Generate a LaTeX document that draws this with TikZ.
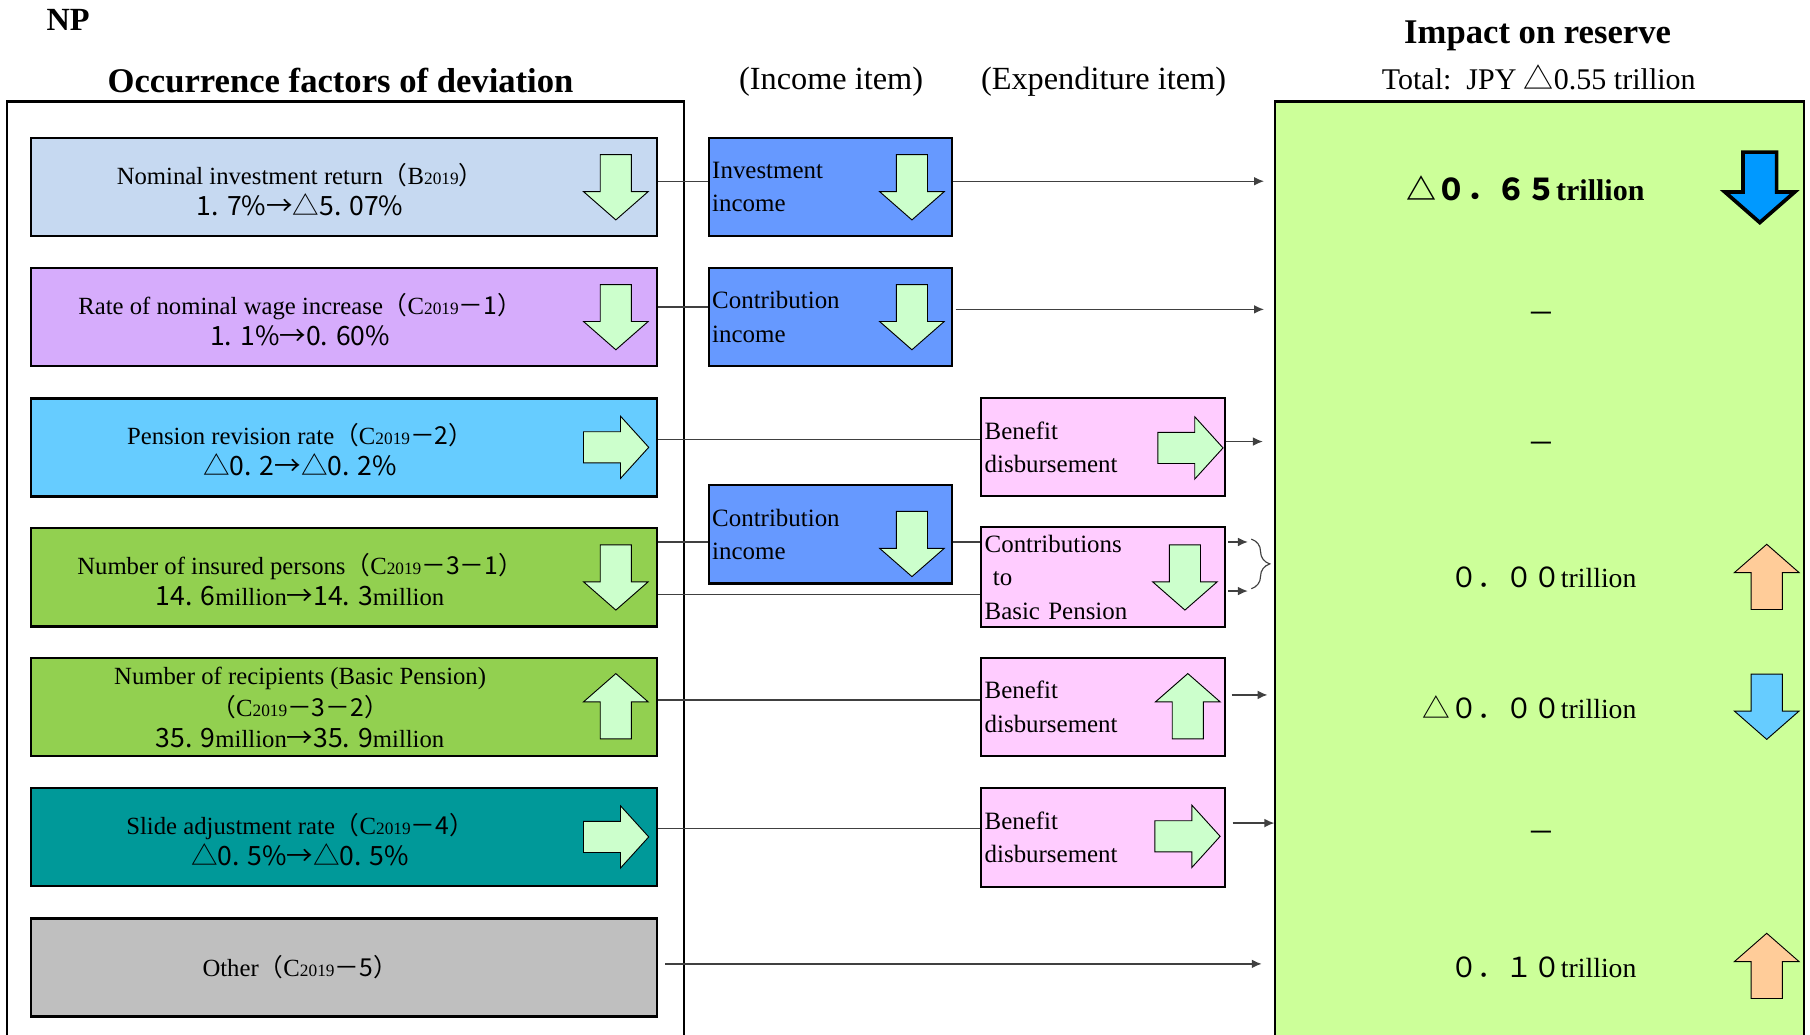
\documentclass[tikz,border=0pt]{standalone}
\usepackage{fontspec}
\setmainfont{Liberation Serif}
\newfontfamily\jpfont{Noto Sans CJK JP}
\usepackage{xcolor}
\usepackage{tikz}
\usetikzlibrary{arrows.meta, positioning, calc, decorations.pathreplacing}
\definecolor{fcblue}{RGB}{198,217,241}
\definecolor{fcviolet}{RGB}{214,172,252}
\definecolor{fcsky}{RGB}{102,204,255}
\definecolor{fcgreen}{RGB}{146,208,80}
\definecolor{fcteal}{RGB}{0,153,153}
\definecolor{fcgrey}{RGB}{191,191,191}
\definecolor{incblue}{RGB}{102,153,255}
\definecolor{exppink}{RGB}{255,204,255}
\definecolor{resgreen}{RGB}{204,255,153}
\definecolor{mint}{RGB}{204,255,204}
\definecolor{peach}{RGB}{255,204,153}
\definecolor{deepblue}{RGB}{0,153,255}
\definecolor{linegrey}{RGB}{64,64,64}
\newcommand{\yr}[1]{{\fontsize{7.5}{8}\selectfont #1}}
\newcommand{\gnum}[1]{{\jpfont #1}}
\newcommand{\gsm}[1]{{\jpfont\fontsize{11.5}{13.5}\selectfont #1}}
\tikzset{
  factor/.style={rectangle, draw=black, line width=1.1pt,
    minimum width=271pt, minimum height=42.5pt, inner sep=0pt},
  ftext/.style={align=center, inner sep=0pt,
    font=\fontsize{10.7}{13.5}\selectfont},
  incbox/.style={rectangle, draw=black, line width=0.9pt, fill=incblue,
    minimum width=105.5pt, minimum height=42.5pt, text width=102.5pt,
    inner xsep=1.5pt, align=left, font=\fontsize{10.8}{14.5}\selectfont},
  expbox/.style={incbox, fill=exppink},
  hdr/.style={font=\bfseries\fontsize{15}{18}\selectfont},
  subhdr/.style={font=\fontsize{14}{17}\selectfont},
  impval/.style={anchor=east, inner sep=0pt, font=\fontsize{12}{14}\selectfont},
  dashval/.style={inner sep=0pt, font=\fontsize{12}{14}\selectfont},
  conn/.style={draw=linegrey, line width=0.6pt},
  arr/.style={conn, -{Latex[length=4.3pt,width=3.8pt]}},
  blockarr/.style={draw=black, line width=0.4pt},
  arrdown/.pic={\path[blockarr, fill=#1] (-13.5,-28) -- (13.5,-28) -- (13.5,4)
    -- (28,4) -- (0,28.5) -- (-28,4) -- (-13.5,4) -- cycle;},
  arrup/.pic={\path[blockarr, fill=#1] (-13.5,28) -- (13.5,28) -- (13.5,-4)
    -- (28,-4) -- (0,-28.5) -- (-28,-4) -- (-13.5,-4) -- cycle;},
  arrright/.pic={\path[blockarr, fill=#1] (-28,-13.5) -- (4,-13.5) -- (4,-27)
    -- (28.5,0) -- (4,27) -- (4,13.5) -- (-28,13.5) -- cycle;}
}

\begin{document}
\begin{tikzpicture}[x=0.5pt, y=-0.5pt]
  \useasboundingbox (0,0) rectangle (1568,896);
  \clip (0,0) rectangle (1568,896);

  % ── Headings ───────────────────────────────────────────────────────────────
  \node[font=\bfseries\fontsize{14}{16}\selectfont] (np) at (59,17) {NP};
  \node[hdr] (ttl) at (295,70) {Occurrence factors of deviation};
  \node[subhdr] (incttl) at (720,71) {(Income item)};
  \node[subhdr] (expttl) at (956,71) {(Expenditure item)};
  \node[hdr] (resttl) at (1332,31) {Impact on reserve};
  \node[font=\fontsize{13}{15}\selectfont] (total) at (1333,67)
    {Total:\ \ JPY \gnum{△}0.55 trillion};

  % Frame and reserve panel (open towards the bottom)
  \node[draw=black, line width=0.9pt, anchor=north west, inner sep=0pt,
    minimum width=293.5pt, minimum height=420pt] (frame) at (5,87) {};
  \node[draw=black, line width=0.9pt, fill=resgreen, anchor=north west,
    inner sep=0pt, minimum width=229pt, minimum height=420pt] (panel) at (1104,87) {};

  % ── Occurrence factors ─────────────────────────────────────────────────────
  \node[factor, fill=fcblue]   (f1) at (298,162) {};
  \node[factor, fill=fcviolet] (f2) at (298,274.5) {};
  \node[factor, fill=fcsky]    (f3) at (298,387.5) {};
  \node[factor, fill=fcgreen]  (f4) at (298,500) {};
  \node[factor, fill=fcgreen]  (f5) at (298,612.5) {};
  \node[factor, fill=fcteal]   (f6) at (298,725) {};
  \node[factor, fill=fcgrey]   (f7) at (298,838) {};

  \node[ftext] (f1t) at (260,164) {Nominal investment return\gnum{（}B\yr{2019}\gnum{）}\\
    \gsm{1. 7\%→△5. 07\%}};
  \node[ftext] (f2t) at (260,276.5) {Rate of nominal wage increase\gnum{（}C\yr{2019}\gnum{－1）}\\
    \gsm{1. 1\%→0. 60\%}};
  \node[ftext] (f3t) at (260,389.5) {Pension revision rate\gnum{（}C\yr{2019}\gnum{－2）}\\
    \gsm{△0. 2→△0. 2\%}};
  \node[ftext] (f4t) at (260,502) {Number of insured persons\gnum{（}C\yr{2019}\gnum{－3－1）}\\
    \gsm{14. 6}million\gsm{→14. 3}million};
  \node[ftext] (f5t) at (260,613) {Number of recipients (Basic Pension)\\
    \gnum{（}C\yr{2019}\gnum{－3－2）}\\ \gsm{35. 9}million\gsm{→35. 9}million};
  \node[ftext] (f6t) at (260,727) {Slide adjustment rate\gnum{（}C\yr{2019}\gnum{－4）}\\
    \gsm{△0. 5\%→△0. 5\%}};
  \node[ftext] (f7t) at (260,838) {Other\gnum{（}C\yr{2019}\gnum{－5）}};

  \pic at (533.5,162) {arrdown=mint};
  \pic at (533.5,274.5) {arrdown=mint};
  \pic at (533.5,387.5) {arrright=mint};
  \pic at (533.5,500) {arrdown=mint};
  \pic at (533.5,612) {arrup=mint};
  \pic at (533.5,725) {arrright=mint};

  % ── Income items ───────────────────────────────────────────────────────────
  \node[incbox] (inc1) at (719.5,162) {Investment\\ income};
  \node[incbox] (inc2) at (719.5,274.5) {Contribution\\ income};
  \node[incbox] (inc4) at (719.5,463) {Contribution\\ income};
  \pic at (790,162) {arrdown=mint};
  \pic at (790,274.5) {arrdown=mint};
  \pic at (790,471) {arrdown=mint};

  % ── Expenditure items ──────────────────────────────────────────────────────
  \node[expbox] (exp3) at (955.5,387.5) {Benefit\\ disbursement};
  \node[expbox] (exp4) at (955.5,500) {Contributions\\ \ to\\ Basic Pension};
  \node[expbox] (exp5) at (955.5,612.5) {Benefit\\ disbursement};
  \node[expbox] (exp6) at (955.5,725.5) {Benefit\\ disbursement};
  \pic at (1031,388) {arrright=mint};
  \pic at (1026.5,500) {arrdown=mint};
  \pic at (1029,612) {arrup=mint};
  \pic at (1028.5,724.5) {arrright=mint};

  % ── Connectors ─────────────────────────────────────────────────────────────
  \draw[conn] (f1.east |- 0,157) -- (inc1.west |- 0,157);
  \draw[arr, shorten >=4.5pt] (inc1.east |- 0,157) -- (panel.west |- 0,157);
  \draw[conn] (f2.east |- 0,266) -- (inc2.west |- 0,266);
  \draw[arr, shorten <=1pt, shorten >=4.5pt] (inc2.east |- 0,268) -- (panel.west |- 0,268);
  \draw[conn] (f3.east |- 0,380.5) -- (exp3.west |- 0,380.5);
  \draw[arr, shorten >=5pt] (exp3.east |- 0,382.5) -- (panel.west |- 0,382.5);
  \draw[conn] (f4.east |- 0,469.5) -- (inc4.west |- 0,469.5);
  \draw[conn] (inc4.east |- 0,469.5) -- (exp4.west |- 0,469.5);
  \draw[conn] (f4.east |- 0,515) -- (exp4.west |- 0,515);
  \coordinate (bra) at (1081,469.5);
  \coordinate (brb) at (1081,512);
  \draw[arr, shorten <=1pt] (exp4.east |- bra) -- (bra);
  \draw[arr, shorten <=1pt] (exp4.east |- brb) -- (brb);
  \draw[conn, line width=0.5pt, decorate, decoration={brace, amplitude=8pt}]
    (1084,467) -- (1084,510);
  \draw[conn] (f5.east |- 0,606.5) -- (exp5.west |- 0,606.5);
  \draw[arr, shorten <=2.5pt, shorten >=3pt] (exp5.east |- 0,602) -- (panel.west |- 0,602);
  \draw[conn] (f6.east |- 0,717.5) -- (exp6.west |- 0,717.5);
  \draw[arr, shorten <=3pt] (exp6.east |- 0,713) -- (panel.west |- 0,713);
  \draw[arr, shorten <=3pt, shorten >=5.5pt] (f7.east |- 0,835) -- (panel.west |- 0,835);

  % ── Impact on reserve ──────────────────────────────────────────────────────
  \node[impval, font=\bfseries\fontsize{13}{15}\selectfont] (v1) at (1425,163)
    {\gnum{△０．６５}trillion};
  \node[dashval] (v2) at (1335,275) {\gnum{－}};
  \node[dashval] (v3) at (1335,388) {\gnum{－}};
  \node[impval] (v4) at (1418,500) {\gnum{０．００}trillion};
  \node[impval] (v5) at (1418,613) {\gnum{△０．００}trillion};
  \node[dashval] (v6) at (1335,725) {\gnum{－}};
  \node[impval] (v7) at (1418,838) {\gnum{０．１０}trillion};

  \pic[scale=1.08, blockarr/.append style={line width=1.6pt}] at (1524.5,162) {arrdown=deepblue};
  \pic at (1530.5,500) {arrup=peach};
  \pic at (1530.5,612) {arrdown=fcsky};
  \pic at (1530.5,837) {arrup=peach};
\end{tikzpicture}
\end{document}
